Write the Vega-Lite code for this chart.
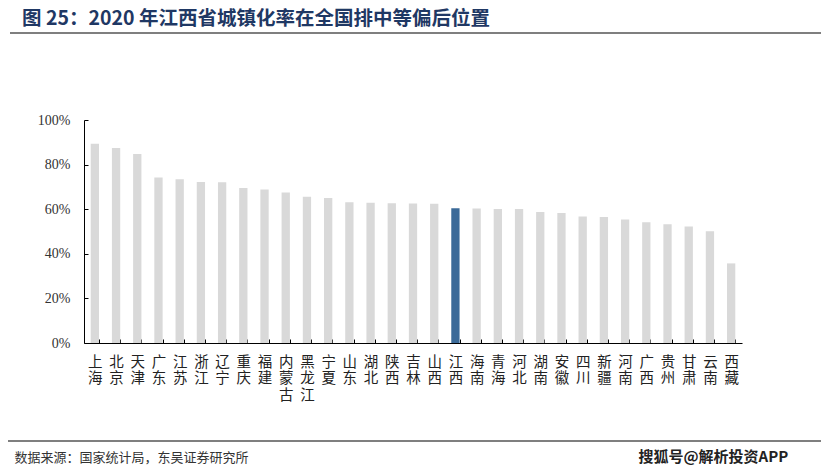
{
  "$schema": "https://vega.github.io/schema/vega-lite/v6.json",
  "width": 658,
  "height": 223,
  "autosize": "none",
  "padding": {"left": 84, "top": 120, "right": 79, "bottom": 129},
  "background": "white",
  "config": {"view": {"stroke": null}},
  "title": {
    "text": "图 25：2020 年江西省城镇化率在全国排中等偏后位置",
    "anchor": "start",
    "frame": "group",
    "dx": -62,
    "dy": 1,
    "font": "Noto Sans CJK SC",
    "fontSize": 19.5,
    "fontWeight": "bold",
    "color": "#1F3864"
  },
  "layer": [
    {
      "data": {"values": [
        {"province": "上海", "rate": 89.3},
        {"province": "北京", "rate": 87.5},
        {"province": "天津", "rate": 84.7},
        {"province": "广东", "rate": 74.2},
        {"province": "江苏", "rate": 73.4},
        {"province": "浙江", "rate": 72.2},
        {"province": "辽宁", "rate": 72.1},
        {"province": "重庆", "rate": 69.5},
        {"province": "福建", "rate": 68.8},
        {"province": "内蒙古", "rate": 67.5},
        {"province": "黑龙江", "rate": 65.6},
        {"province": "宁夏", "rate": 65.0},
        {"province": "山东", "rate": 63.1},
        {"province": "湖北", "rate": 62.9},
        {"province": "陕西", "rate": 62.7},
        {"province": "吉林", "rate": 62.6},
        {"province": "山西", "rate": 62.5},
        {"province": "江西", "rate": 60.4},
        {"province": "海南", "rate": 60.3},
        {"province": "青海", "rate": 60.1},
        {"province": "河北", "rate": 60.1},
        {"province": "湖南", "rate": 58.8},
        {"province": "安徽", "rate": 58.3},
        {"province": "四川", "rate": 56.7},
        {"province": "新疆", "rate": 56.5},
        {"province": "河南", "rate": 55.4},
        {"province": "广西", "rate": 54.2},
        {"province": "贵州", "rate": 53.2},
        {"province": "甘肃", "rate": 52.2},
        {"province": "云南", "rate": 50.1},
        {"province": "西藏", "rate": 35.7}
      ]},
      "mark": {"type": "bar"},
      "encoding": {
        "x": {
          "field": "province",
          "type": "nominal",
          "sort": null,
          "scale": {"paddingInner": 0.609, "paddingOuter": 0.316},
          "axis": {
            "title": "数据来源：国家统计局，东吴证券研究所",
            "titleFont": "Noto Sans CJK SC",
            "titleFontSize": 13,
            "titleFontWeight": "normal",
            "titleColor": "#333333",
            "titleAnchor": "start",
            "titleAlign": "left",
            "titleBaseline": "middle",
            "titleAngle": 0,
            "titleX": -70,
            "titleY": 114,
            "labelAngle": 0,
            "labelExpr": "split(datum.label, '')",
            "labelFont": "Noto Sans CJK SC",
            "labelFontSize": 14.5,
            "labelLineHeight": 16.5,
            "labelColor": "#222222",
            "labelBaseline": "top",
            "labelPadding": 16,
            "tickBand": "extent",
            "tickSize": -4,
            "tickColor": "#000000",
            "domainColor": "#000000",
            "labelOverlap": false
          }
        },
        "y": {
          "field": "rate",
          "type": "quantitative",
          "scale": {"domain": [0, 100], "nice": false},
          "axis": {
            "values": [0, 20, 40, 60, 80, 100],
            "labelExpr": "datum.value + '%'",
            "labelFont": "Liberation Serif",
            "labelFontSize": 14,
            "labelColor": "#333333",
            "labelPadding": 18,
            "grid": false,
            "tickSize": -4,
            "tickColor": "#000000",
            "domainColor": "#000000",
            "title": "搜狐号@解析投资APP",
            "titleFont": "Noto Sans CJK SC",
            "titleFontSize": 15,
            "titleFontWeight": "bold",
            "titleColor": "#222222",
            "titleAngle": 0,
            "titleAlign": "left",
            "titleBaseline": "middle",
            "titleX": 554,
            "titleY": 336
          }
        },
        "color": {
          "condition": {"test": "datum.province === '江西'", "value": "#3B6A98"},
          "value": "#D9D9D9"
        }
      }
    },
    {
      "data": {"values": [{"line": "header"}]},
      "mark": {"type": "rule", "color": "#555555", "strokeWidth": 1.5},
      "encoding": {
        "x": {"value": -74},
        "x2": {"value": 737},
        "y": {"value": -87}
      }
    },
    {
      "data": {"values": [{"line": "footer"}]},
      "mark": {"type": "rule", "color": "#555555", "strokeWidth": 1.5},
      "encoding": {
        "x": {"value": -76},
        "x2": {"value": 737},
        "y": {"value": 321}
      }
    }
  ]
}
